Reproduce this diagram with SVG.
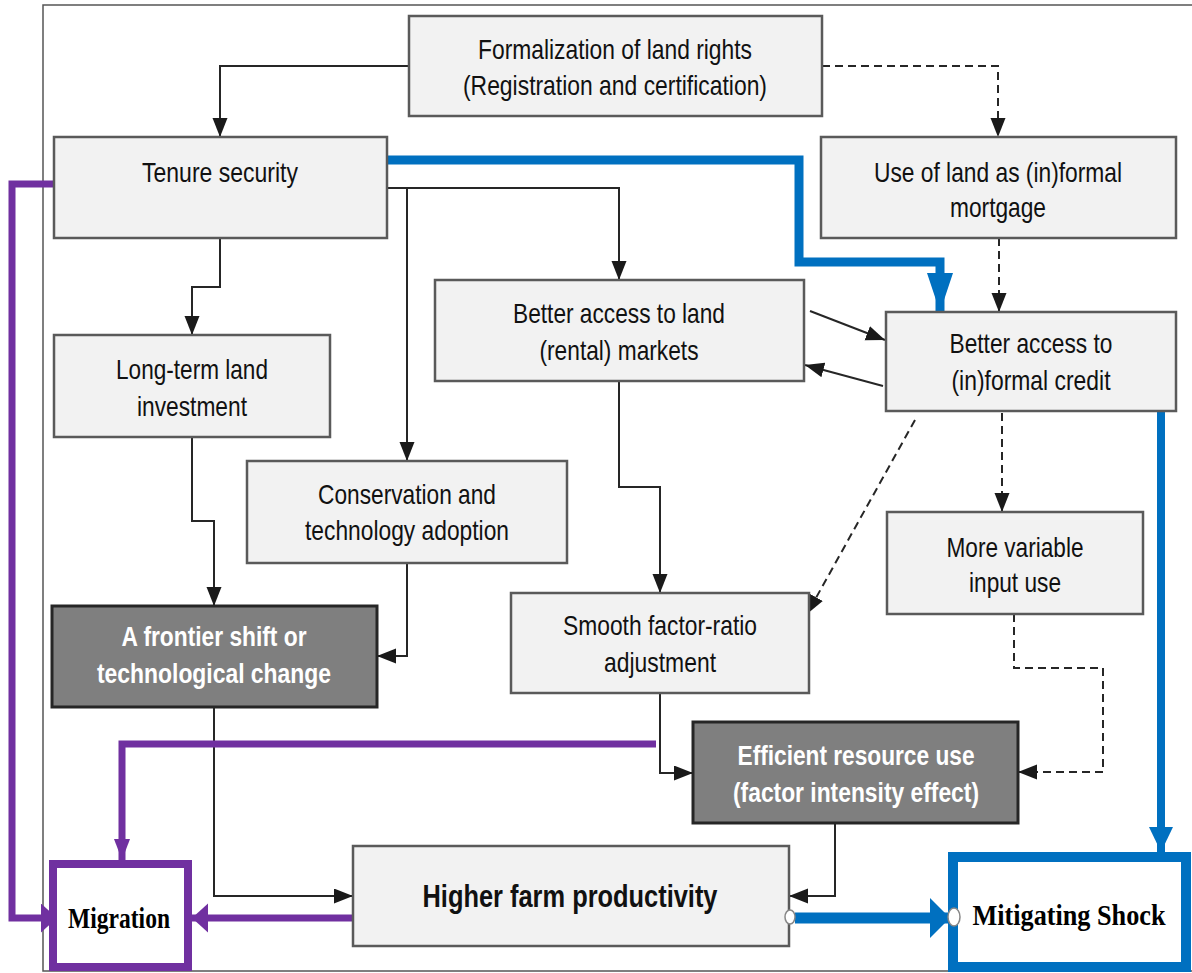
<svg xmlns="http://www.w3.org/2000/svg" width="1192" height="973" viewBox="0 0 1192 973">
<style>
.box{fill:#f2f2f2;stroke:#5a5a5a;stroke-width:2.5}
.dark{fill:#7f7f7f;stroke:#262626;stroke-width:3}
.t{font-family:"Liberation Sans",Arial,sans-serif;font-size:28px;fill:#111;text-anchor:middle}
.tb{font-family:"Liberation Sans",Arial,sans-serif;font-size:28px;font-weight:bold;fill:#fff;text-anchor:middle}
.tk{font-family:"Liberation Sans",Arial,sans-serif;font-size:32px;font-weight:bold;fill:#111;text-anchor:middle}
.ts{font-family:"Liberation Serif","Times New Roman",serif;font-weight:bold;fill:#000;text-anchor:middle}
.ln{fill:none;stroke:#262626;stroke-width:2}
.ds{fill:none;stroke:#262626;stroke-width:2;stroke-dasharray:8 5}
.pu{fill:none;stroke:#7030a0;stroke-width:7}
.bl{fill:none;stroke:#0070c0;stroke-width:9}
</style>
<defs>
<marker id="ah" markerUnits="userSpaceOnUse" markerWidth="20" markerHeight="16" refX="19" refY="7.5" orient="auto"><path d="M0,0 L19,7.5 L0,15 z" fill="#1a1a1a"/></marker>
<marker id="puA" markerUnits="userSpaceOnUse" markerWidth="22" markerHeight="16" refX="21" refY="8" orient="auto"><path d="M0,0 L21,8 L0,16 z" fill="#7030a0"/></marker>
<marker id="puB" markerUnits="userSpaceOnUse" markerWidth="17" markerHeight="30" refX="16" refY="14.5" orient="auto"><path d="M0,0 L16,14.5 L0,29 z" fill="#7030a0"/></marker>
<marker id="blA" markerUnits="userSpaceOnUse" markerWidth="40" markerHeight="28" refX="39" refY="13" orient="auto"><path d="M0,0 L39,13 L0,26 z" fill="#0070c0"/></marker>
<marker id="blB" markerUnits="userSpaceOnUse" markerWidth="26" markerHeight="26" refX="25" refY="12" orient="auto"><path d="M0,0 L25,12 L0,24 z" fill="#0070c0"/></marker>
<marker id="blC" markerUnits="userSpaceOnUse" markerWidth="21" markerHeight="42" refX="20" refY="20" orient="auto"><path d="M0,0 L20,20 L0,40 z" fill="#0070c0"/></marker>
</defs>
<rect x="0" y="0" width="1192" height="973" fill="#fff"/>
<rect x="43" y="5" width="1160" height="966" fill="none" stroke="#555" stroke-width="1.5"/>

<g id="connectors">
<path class="ln" d="M409,66 H220 V137" marker-end="url(#ah)"/>
<path class="ds" d="M822,66 H998 V137" marker-end="url(#ah)"/>
<path class="ds" d="M999,238 V312" marker-end="url(#ah)"/>
<path class="ln" d="M220,238 V287 H192 V335" marker-end="url(#ah)"/>
<path class="ln" d="M387,188 H619 V280" marker-end="url(#ah)"/>
<path class="ln" d="M407,188 V461" marker-end="url(#ah)"/>
<path class="ln" d="M810,311 L885,340" marker-end="url(#ah)"/>
<path class="ln" d="M883,386 L805,365" marker-end="url(#ah)"/>
<path class="ln" d="M619,381 V487 H660 V593" marker-end="url(#ah)"/>
<path class="ds" d="M915,420 L807,614" marker-end="url(#ah)"/>
<path class="ds" d="M1002,413 V512" marker-end="url(#ah)"/>
<path class="ds" d="M1014,614 V668 H1103 V772 H1018" marker-end="url(#ah)"/>
<path class="ln" d="M192,437 V521 H214 V606" marker-end="url(#ah)"/>
<path class="ln" d="M407,563 V656 H377" marker-end="url(#ah)"/>
<path class="ln" d="M214,707 V896 H353" marker-end="url(#ah)"/>
<path class="ln" d="M660,693 V773 H693" marker-end="url(#ah)"/>
<path class="ln" d="M835,823 V896 H789" marker-end="url(#ah)"/>
<path class="bl" d="M387,160 H799 V262 H940 V312" marker-end="url(#blA)"/>
<path class="bl" style="stroke-width:8" d="M1161,411 V852" marker-end="url(#blB)"/>
<path class="bl" style="stroke-width:11" d="M795,918 H950" marker-end="url(#blC)"/>
<path class="pu" d="M54,184 H12 V918 H57" marker-end="url(#puB)"/>
<path class="pu" d="M656,744 H122 V860" marker-end="url(#puA)"/>
<path class="pu" d="M353,918 H192" marker-end="url(#puB)"/>
</g>

<g id="n-formalization">
<rect class="box" x="409" y="16" width="413" height="100"/>
<text class="t" x="615" y="59" textLength="274" lengthAdjust="spacingAndGlyphs">Formalization of land rights</text>
<text class="t" x="615" y="95" textLength="304" lengthAdjust="spacingAndGlyphs">(Registration and certification)</text>
</g>
<g id="n-tenure">
<rect class="box" x="54" y="137" width="333" height="101"/>
<text class="t" x="220" y="182" textLength="156" lengthAdjust="spacingAndGlyphs">Tenure security</text>
</g>
<g id="n-mortgage">
<rect class="box" x="821" y="137" width="355" height="101"/>
<text class="t" x="998" y="182" textLength="248" lengthAdjust="spacingAndGlyphs">Use of land as (in)formal</text>
<text class="t" x="998" y="217" textLength="96" lengthAdjust="spacingAndGlyphs">mortgage</text>
</g>
<g id="n-longterm">
<rect class="box" x="54" y="335" width="276" height="102"/>
<text class="t" x="192" y="379" textLength="152" lengthAdjust="spacingAndGlyphs">Long-term land</text>
<text class="t" x="192" y="416" textLength="110" lengthAdjust="spacingAndGlyphs">investment</text>
</g>
<g id="n-landmarkets">
<rect class="box" x="435" y="280" width="369" height="101"/>
<text class="t" x="619" y="323" textLength="212" lengthAdjust="spacingAndGlyphs">Better access to land</text>
<text class="t" x="619" y="360" textLength="159" lengthAdjust="spacingAndGlyphs">(rental) markets</text>
</g>
<g id="n-credit">
<rect class="box" x="886" y="312" width="290" height="99"/>
<text class="t" x="1031" y="353" textLength="163" lengthAdjust="spacingAndGlyphs">Better access to</text>
<text class="t" x="1031" y="390" textLength="159" lengthAdjust="spacingAndGlyphs">(in)formal credit</text>
</g>
<g id="n-conservation">
<rect class="box" x="247" y="461" width="320" height="102"/>
<text class="t" x="407" y="504" textLength="178" lengthAdjust="spacingAndGlyphs">Conservation and</text>
<text class="t" x="407" y="540" textLength="204" lengthAdjust="spacingAndGlyphs">technology adoption</text>
</g>
<g id="n-variable">
<rect class="box" x="887" y="512" width="256" height="102"/>
<text class="t" x="1015" y="557" textLength="137" lengthAdjust="spacingAndGlyphs">More variable</text>
<text class="t" x="1015" y="592" textLength="92" lengthAdjust="spacingAndGlyphs">input use</text>
</g>
<g id="n-frontier">
<rect class="dark" x="52" y="606" width="325" height="101"/>
<text class="tb" x="214" y="646" textLength="185" lengthAdjust="spacingAndGlyphs">A frontier shift or</text>
<text class="tb" x="214" y="683" textLength="234" lengthAdjust="spacingAndGlyphs">technological change</text>
</g>
<g id="n-smooth">
<rect class="box" x="511" y="593" width="298" height="100"/>
<text class="t" x="660" y="635" textLength="194" lengthAdjust="spacingAndGlyphs">Smooth factor-ratio</text>
<text class="t" x="660" y="672" textLength="112" lengthAdjust="spacingAndGlyphs">adjustment</text>
</g>
<g id="n-efficient">
<rect class="dark" x="693" y="722" width="325" height="101"/>
<text class="tb" x="856" y="765" textLength="237" lengthAdjust="spacingAndGlyphs">Efficient resource use</text>
<text class="tb" x="856" y="802" textLength="246" lengthAdjust="spacingAndGlyphs">(factor intensity effect)</text>
</g>
<g id="n-productivity">
<rect class="box" x="353" y="846" width="436" height="100"/>
<text class="tk" x="570" y="907" textLength="295" lengthAdjust="spacingAndGlyphs">Higher farm productivity</text>
</g>
<g id="n-migration">
<rect x="53" y="864" width="135" height="103" fill="#fff" stroke="#7030a0" stroke-width="8"/>
<text class="ts" x="119" y="928" font-size="29" textLength="102" lengthAdjust="spacingAndGlyphs">Migration</text>
</g>
<g id="n-mitigating">
<rect x="953" y="857" width="233" height="110" fill="#fff" stroke="#0070c0" stroke-width="10"/>
<text class="ts" x="1069" y="925" font-size="29" textLength="193" lengthAdjust="spacingAndGlyphs">Mitigating Shock</text>
</g>
<g id="ports">
<ellipse cx="790" cy="917" rx="5" ry="7" fill="#fff" stroke="#888" stroke-width="1.5"/>
<ellipse cx="954" cy="917" rx="6" ry="9" fill="#fff" stroke="#888" stroke-width="1.5"/>
</g>
</svg>
